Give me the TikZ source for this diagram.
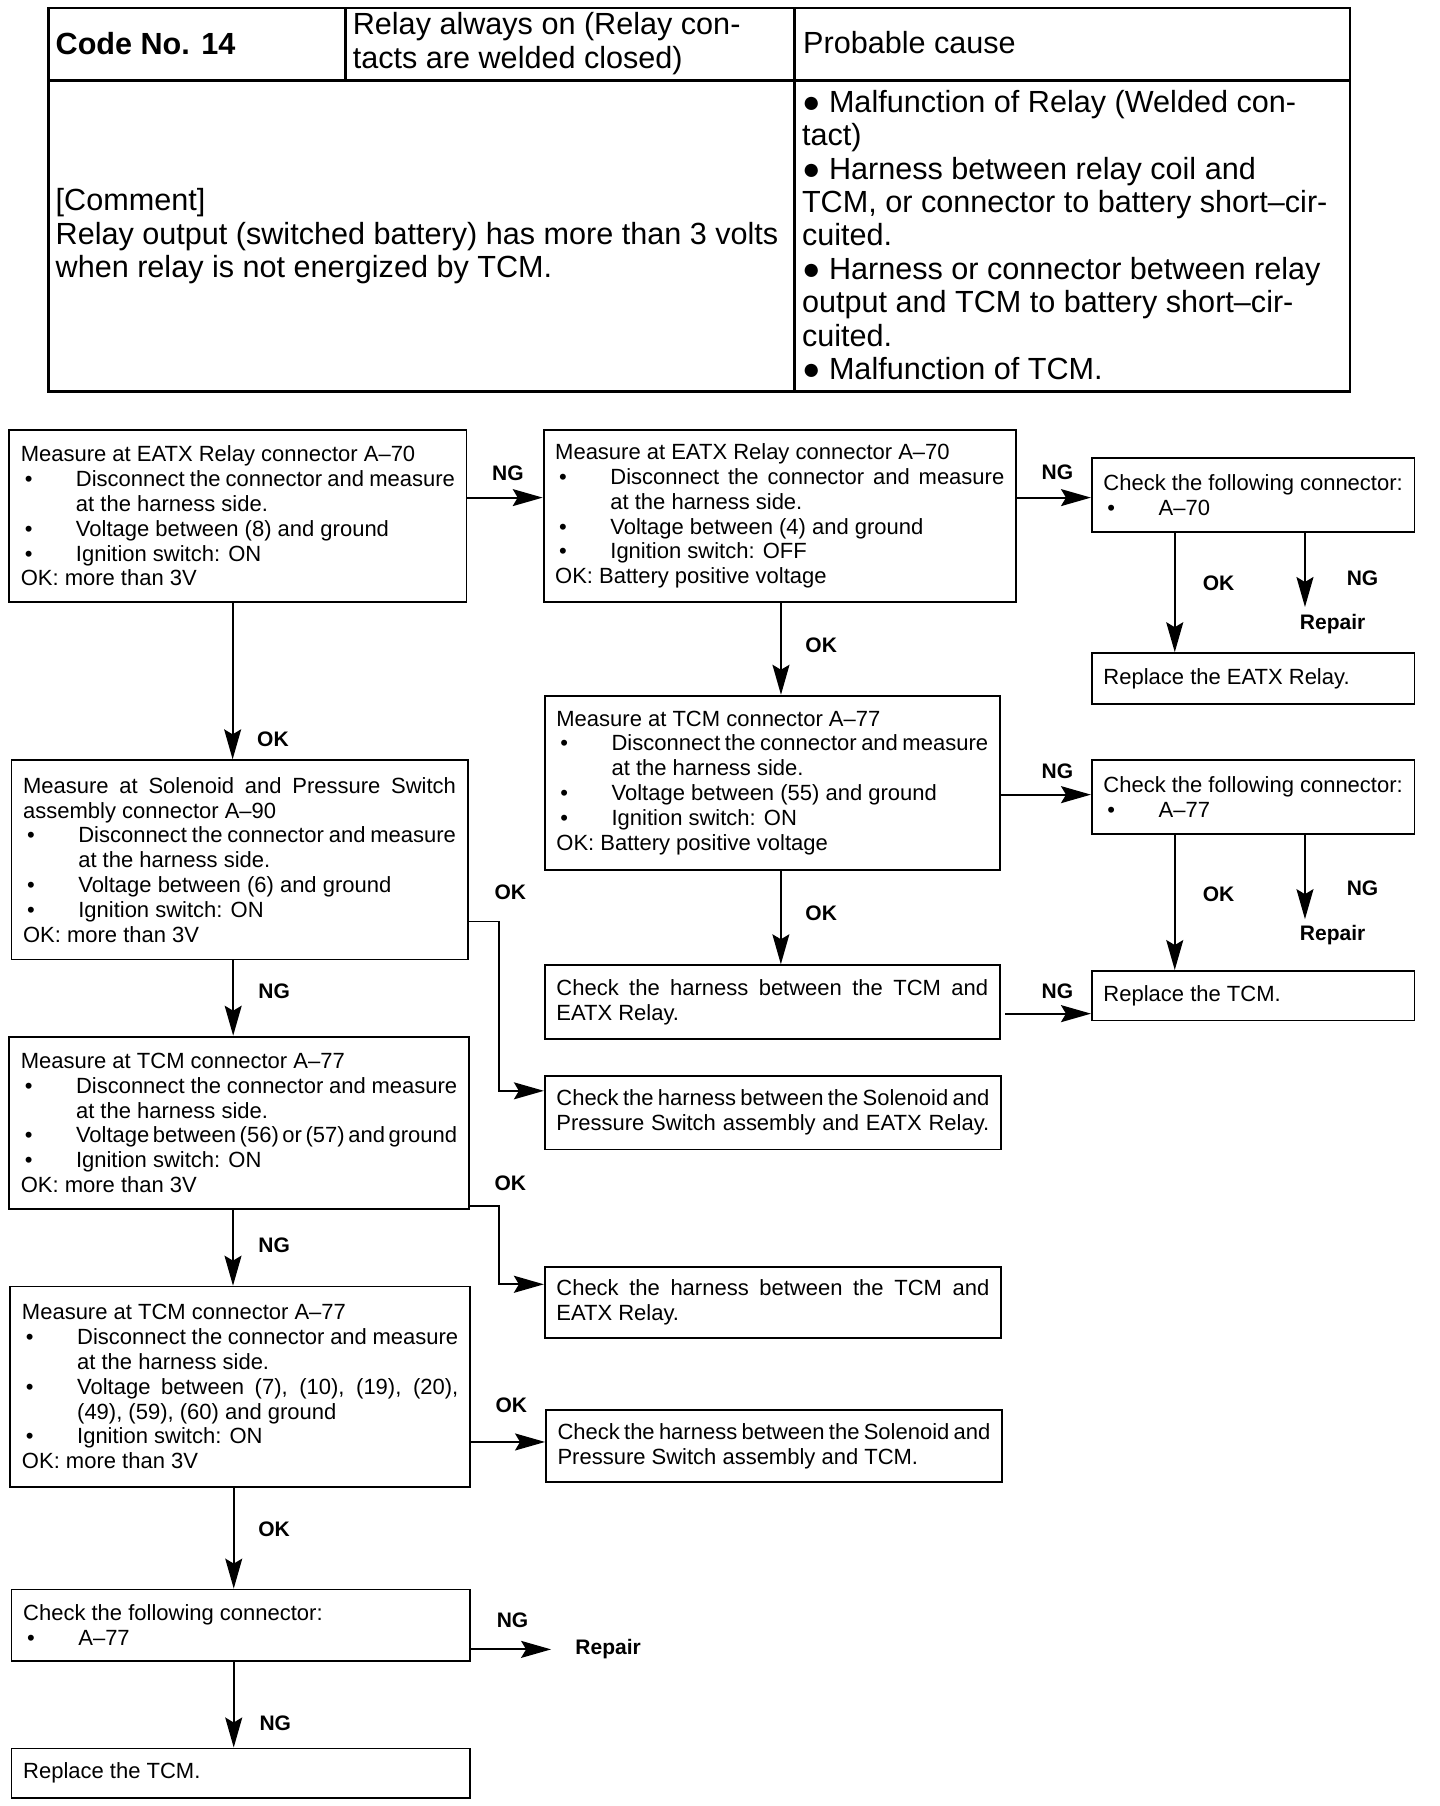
\documentclass[tikz,border=0pt]{standalone}
\usepackage{fontspec}
\setmainfont{Liberation Sans}
\usetikzlibrary{arrows.meta,calc}
\newcommand{\bxfont}{\fontsize{11pt}{12.4pt}\selectfont}
\newcommand{\tbfont}{\fontsize{15.3pt}{16.7pt}\selectfont}
\newcommand{\lbfont}{\fontsize{10.5pt}{12pt}\selectfont\bfseries}
\newcommand{\sps}{\spaceskip=.278em plus 1em minus .2em\relax}
\newcommand{\bl}[1]{\hspace*{2pt}\makebox[25.6pt][l]{\textbullet}#1}
\newcommand{\il}[1]{\hspace*{27.6pt}#1}
\newcommand{\jl}[1]{\makebox[\hsize][s]{\sps #1}}
\newcommand{\bjl}[1]{\hspace*{2pt}\makebox[25.6pt][l]{\textbullet}\makebox[\dimexpr\hsize-27.6pt\relax][s]{\sps #1}}
\tikzset{
  box/.style={draw, line width=0.9pt, inner xsep=5.8pt, inner ysep=0pt, align=flush left, font=\bxfont},
  lbl/.style={font=\lbfont, inner sep=0pt},
  arr/.style={line width=0.9pt, -{Stealth[length=15pt,width=8.5pt,inset=2.5pt]}},
  tbl/.style={line width=1.4pt},
  ttxt/.style={inner sep=0pt, align=flush left, anchor=west, font=\tbfont},
}
\begin{document}
\begin{tikzpicture}[x=0.576pt,y=-0.576pt]
\useasboundingbox (0,0) rectangle (1250,1568);
% ---------- table ----------
\draw[tbl] (42,7) rectangle (1172,340);
\draw[tbl] (42,70) -- (1172,70);
\draw[tbl] (300,7) -- (300,70);
\draw[tbl] (690,7) -- (690,340);
\node[ttxt, font=\tbfont\bfseries] (code) at (48,38) {Code No. 14};
\node[ttxt] (hdr) at (306,38) {Relay always on (Relay con-\\tacts are welded closed)};
\node[ttxt] (cause) at (697,37) {Probable cause};
\node[ttxt] (comment) at (48,205) {[Comment]\\Relay output (switched battery) has more than 3 volts\\when relay is not energized by TCM.};
\node[ttxt] (causes) at (696,204) {● Malfunction of Relay (Welded con-\\tact)\\● Harness between relay coil and\\TCM, or connector to battery short–cir-\\cuited.\\● Harness or connector between relay\\output and TCM to battery short–cir-\\cuited.\\● Malfunction of TCM.};
% ---------- boxes ----------
\node[box, text width=217.1pt, minimum height=86.4pt] (A) at (206.5,448) {Measure at EATX Relay connector A–70\\
\bjl{Disconnect the connector and measure}\\
\il{at the harness side.}\\
\bl{Voltage between (8) and ground}\\
\bl{Ignition switch: ON}\\
OK: more than 3V};
\node[box, text width=224.6pt, minimum height=86.4pt] (B) at (677,448) {Measure at EATX Relay connector A–70\\
\bjl{Disconnect the connector and measure}\\
\il{at the harness side.}\\
\bl{Voltage between (4) and ground}\\
\bl{Ignition switch: OFF}\\
OK: Battery positive voltage};
\node[box, text width=149.7pt, minimum height=36.9pt] (C) at (1088,430) {\jl{Check the following connector:}\\\bl{A–70}};
\node[box, text width=149.7pt, minimum height=25.3pt] (D) at (1088,589) {Replace the EATX Relay.};
\node[box, text width=215.9pt, minimum height=87pt] (E) at (670.5,679.5) {Measure at TCM connector A–77\\
\bjl{Disconnect the connector and measure}\\
\il{at the harness side.}\\
\bl{Voltage between (55) and ground}\\
\bl{Ignition switch: ON}\\
OK: Battery positive voltage};
\node[box, text width=149.7pt, minimum height=36.9pt] (F) at (1088,692) {\jl{Check the following connector:}\\\bl{A–77}};
\node[box, text width=215.9pt, minimum height=36.9pt] (G) at (670.5,870) {\jl{Check the harness between the TCM and}\\EATX Relay.};
\node[box, text width=149.7pt, minimum height=24.8pt] (H) at (1088,864.5) {Replace the TCM.};
\node[box, text width=216.5pt, minimum height=99.6pt] (I) at (208,746.5) {\jl{Measure at Solenoid and Pressure Switch}\\
assembly connector A–90\\
\bjl{Disconnect the connector and measure}\\
\il{at the harness side.}\\
\bl{Voltage between (6) and ground}\\
\bl{Ignition switch: ON}\\
OK: more than 3V};
\node[box, text width=216.5pt, minimum height=36.9pt] (J) at (671,966) {\jl{Check the harness between the Solenoid and}\\\jl{Pressure Switch assembly and EATX Relay.}};
\node[box, text width=218.2pt, minimum height=86.4pt] (K) at (207.5,975) {Measure at TCM connector A–77\\
\bjl{Disconnect the connector and measure}\\
\il{at the harness side.}\\
\bjl{Voltage between (56) or (57) and ground}\\
\bl{Ignition switch: ON}\\
OK: more than 3V};
\node[box, text width=216.5pt, minimum height=35.7pt] (L) at (671,1131) {\jl{Check the harness between the TCM and}\\EATX Relay.};
\node[box, text width=218.2pt, minimum height=100.2pt] (M) at (208.5,1204) {Measure at TCM connector A–77\\
\bjl{Disconnect the connector and measure}\\
\il{at the harness side.}\\
\bjl{Voltage between (7), (10), (19), (20),}\\
\il{(49), (59), (60) and ground}\\
\bl{Ignition switch: ON}\\
OK: more than 3V};
\node[box, text width=216.5pt, minimum height=36.3pt] (N) at (672,1255.5) {\jl{Check the harness between the Solenoid and}\\Pressure Switch assembly and TCM.};
\node[box, text width=217.6pt, minimum height=35.7pt] (O) at (209,1411) {Check the following connector:\\\bl{A–77}};
\node[box, text width=217.6pt, minimum height=24.8pt] (P) at (209,1539.5) {Replace the TCM.};
% ---------- repair texts ----------
\node[lbl] (R1) at (1157,542) {Repair};
\node[lbl] (R2) at (1157,812) {Repair};
\node[lbl] (R3) at (528,1432) {Repair};
\coordinate (r1) at (1133,527);
\coordinate (r2) at (1133,798);
% ---------- connectors ----------
\coordinate (a1) at ([yshift=9.2pt]A.east);
\draw[arr] (a1) -- (a1 -| B.west);
\coordinate (b1) at ([yshift=9.2pt]B.east);
\draw[arr] (b1) -- (b1 -| C.west);
\draw[arr] ([xshift=-39.2pt]C.south) -- ([xshift=-39.2pt]D.north);
\draw[arr] ([xshift=25.9pt]C.south) -- (r1);
\draw[arr] ([xshift=0.6pt]B.south) -- ([xshift=0.6pt]B.south |- E.north);
\coordinate (e1) at ([yshift=-6pt]E.east);
\draw[arr] (e1) -- (e1 -| F.west);
\draw[arr] ([xshift=-39.2pt]F.south) -- ([xshift=-39.2pt]H.north);
\draw[arr] ([xshift=25.9pt]F.south) -- (r2);
\draw[arr] ([xshift=4.3pt]E.south) -- ([xshift=4.3pt]E.south |- G.north);
\coordinate (g1) at ([yshift=-5.8pt,xshift=2.3pt]G.east);
\draw[arr] (g1) -- (g1 -| H.west);
\draw[arr] ([xshift=-2.6pt]A.south) -- ([xshift=-2.6pt]A.south |- I.north);
\coordinate (i1) at ([yshift=-30.8pt]I.east);
\coordinate (j1) at ([yshift=10.9pt]J.west);
\draw[arr] (i1) -| ([xshift=-22.5pt]j1) -- (j1);
\draw[arr] ([xshift=-3.2pt]I.south) -- ([xshift=-3.2pt]I.south |- K.north);
\coordinate (k1) at ([yshift=-41.5pt]K.east);
\coordinate (l1) at ([yshift=9.2pt]L.west);
\draw[arr] (k1) -| ([xshift=-22.5pt]l1) -- (l1);
\draw[arr] ([xshift=-3pt]K.south) -- ([xshift=-3pt]K.south |- M.north);
\coordinate (m1) at ([yshift=-27.6pt]M.east);
\draw[arr] (m1) -- (m1 -| N.west);
\draw[arr] ([xshift=-3.2pt]M.south) -- ([xshift=-3.2pt]M.south |- O.north);
\coordinate (o1) at ([yshift=-12.1pt]O.east);
\draw[arr] (o1) -- ([xshift=-12pt]o1 -| R3.west);
\draw[arr] ([xshift=-3.5pt]O.south) -- ([xshift=-3.5pt]O.south |- P.north);
% ---------- labels ----------
\node[lbl] (n1) at (441,411) {NG};
\node[lbl] (n2) at (918,410) {NG};
\node[lbl] (k2) at (1058,506) {OK};
\node[lbl] (n3) at (1183,502) {NG};
\node[lbl] (k3) at (713,560) {OK};
\node[lbl] (n4) at (918,670) {NG};
\node[lbl] (k4) at (1058,776) {OK};
\node[lbl] (n5) at (1183,771) {NG};
\node[lbl] (k5) at (713,793) {OK};
\node[lbl] (n6) at (918,861) {NG};
\node[lbl] (k6) at (237,642) {OK};
\node[lbl] (k7) at (443,775) {OK};
\node[lbl] (n7) at (238,861) {NG};
\node[lbl] (k8) at (443,1027) {OK};
\node[lbl] (n8) at (238,1081) {NG};
\node[lbl] (k9) at (444,1220) {OK};
\node[lbl] (k10) at (238,1328) {OK};
\node[lbl] (n9) at (445,1407) {NG};
\node[lbl] (n10) at (239,1496) {NG};
\end{tikzpicture}
\end{document}
